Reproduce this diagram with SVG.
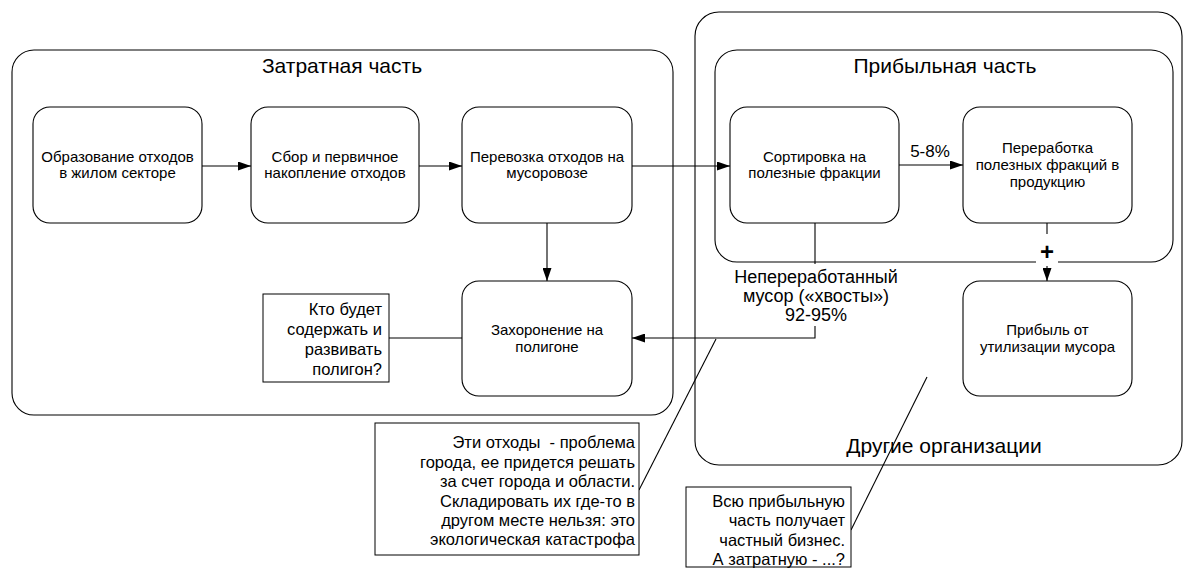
<svg xmlns="http://www.w3.org/2000/svg" width="1184" height="568" viewBox="0 0 1184 568">
<defs>
<style>
.cont{fill:none;stroke:#000;stroke-width:1.1}
.node{fill:#fff;stroke:#000;stroke-width:1.1}
.note{fill:#fff;stroke:#000;stroke-width:1}
.ln{fill:none;stroke:#000;stroke-width:1.1}
.t{font-family:"Liberation Sans",Arial,sans-serif;fill:#000}
.title{font-size:21px;text-anchor:middle}
.nt{font-size:15px;text-anchor:middle}
.ct{font-size:16.5px;text-anchor:end;white-space:pre}
.lb{font-size:18px;text-anchor:middle}
</style>
<marker id="arr" viewBox="0 0 13 9" refX="13" refY="4.5" markerWidth="13" markerHeight="9" markerUnits="userSpaceOnUse" orient="auto">
<path d="M0,0 L13,4.5 L0,9 z" fill="#000"/>
</marker>
</defs>
<rect width="1184" height="568" fill="#fff"/>

<g id="containers">
<g id="other-orgs">
<rect class="cont" x="695" y="12" width="487" height="453" rx="24" ry="24"/>
<text class="t title" x="944" y="453">Другие организации</text>
</g>
<g id="profit-part">
<rect class="cont" x="715" y="50" width="458" height="212" rx="22" ry="22"/>
<text class="t title" x="945" y="73">Прибыльная часть</text>
</g>
<g id="cost-part">
<rect class="cont" x="12" y="50" width="661" height="365" rx="22" ry="22"/>
<text class="t title" x="342" y="73">Затратная часть</text>
</g>
</g>

<g id="connectors">
<line class="ln" x1="202" y1="166" x2="251" y2="166" marker-end="url(#arr)"/>
<line class="ln" x1="419" y1="166" x2="462" y2="166" marker-end="url(#arr)"/>
<line class="ln" x1="632" y1="166" x2="730" y2="166" marker-end="url(#arr)"/>
<line class="ln" x1="899" y1="165" x2="963" y2="165" marker-end="url(#arr)"/>
<text class="t" x="930" y="157" font-size="17" text-anchor="middle">5-8%</text>
<line class="ln" x1="547" y1="223" x2="547" y2="281" marker-end="url(#arr)"/>
<polyline class="ln" points="815,223 815,338 632,338" marker-end="url(#arr)"/>
<rect x="733" y="264" width="166" height="62" fill="#fff"/>
<text class="t lb" x="816" y="283">Непереработанный</text>
<text class="t lb" x="816" y="302">мусор («хвосты»)</text>
<text class="t lb" x="816" y="321">92-95%</text>
<line class="ln" x1="1047" y1="223" x2="1047" y2="281" marker-end="url(#arr)"/>
<rect x="1036" y="234" width="22" height="32" fill="#fff"/>
<text class="t" x="1047" y="260" font-size="24" font-weight="bold" text-anchor="middle">+</text>
<line class="ln" x1="389" y1="338" x2="462" y2="338"/>
<line class="ln" x1="639" y1="490" x2="716" y2="339"/>
<line class="ln" x1="851" y1="530" x2="927" y2="377"/>
</g>

<g id="n1">
<rect class="node" x="33" y="107" width="169" height="116" rx="17" ry="17"/>
<text class="t nt" x="117.5" y="162">Образование отходов</text>
<text class="t nt" x="117.5" y="178">в жилом секторе</text>
</g>
<g id="n2">
<rect class="node" x="251" y="107" width="168" height="116" rx="17" ry="17"/>
<text class="t nt" x="335" y="162">Сбор и первичное</text>
<text class="t nt" x="335" y="178">накопление отходов</text>
</g>
<g id="n3">
<rect class="node" x="462" y="107" width="170" height="116" rx="17" ry="17"/>
<text class="t nt" x="547" y="162">Перевозка отходов на</text>
<text class="t nt" x="547" y="178">мусоровозе</text>
</g>
<g id="n4">
<rect class="node" x="730" y="107" width="169" height="116" rx="17" ry="17"/>
<text class="t nt" x="814.5" y="162">Сортировка на</text>
<text class="t nt" x="814.5" y="178">полезные фракции</text>
</g>
<g id="n5">
<rect class="node" x="963" y="107" width="169" height="116" rx="17" ry="17"/>
<text class="t nt" x="1047.5" y="153">Переработка</text>
<text class="t nt" x="1047.5" y="170">полезных фракций в</text>
<text class="t nt" x="1047.5" y="187">продукцию</text>
</g>
<g id="n6">
<rect class="node" x="462" y="281" width="170" height="115" rx="17" ry="17"/>
<text class="t nt" x="547" y="335">Захоронение на</text>
<text class="t nt" x="547" y="352">полигоне</text>
</g>
<g id="n7">
<rect class="node" x="963" y="281" width="169" height="115" rx="17" ry="17"/>
<text class="t nt" x="1047.5" y="335">Прибыль от</text>
<text class="t nt" x="1047.5" y="352">утилизации мусора</text>
</g>

<g id="note-landfill">
<rect class="note" x="263" y="294" width="126" height="88"/>
<text class="t ct" font-size="17" x="382" y="315">Кто будет</text>
<text class="t ct" font-size="17" x="382" y="335">содержать и</text>
<text class="t ct" font-size="17" x="382" y="355">развивать</text>
<text class="t ct" font-size="17" x="382" y="375">полигон?</text>
</g>
<g id="note-city">
<rect class="note" x="375" y="423" width="264" height="132"/>
<text class="t ct" x="635" y="448">Эти отходы  - проблема</text>
<text class="t ct" x="635" y="468">города, ее придется решать</text>
<text class="t ct" x="635" y="487">за счет города и области.</text>
<text class="t ct" x="635" y="507">Складировать их где-то в</text>
<text class="t ct" x="635" y="526">другом месте нельзя: это</text>
<text class="t ct" x="635" y="545">экологическая катастрофа</text>
</g>
<g id="note-business">
<rect class="note" x="686" y="487" width="165" height="80"/>
<text class="t ct" x="845" y="507">Всю прибыльную</text>
<text class="t ct" x="845" y="526">часть получает</text>
<text class="t ct" x="845" y="546">частный бизнес.</text>
<text class="t ct" x="845" y="565">А затратную - ...?</text>
</g>
</svg>
